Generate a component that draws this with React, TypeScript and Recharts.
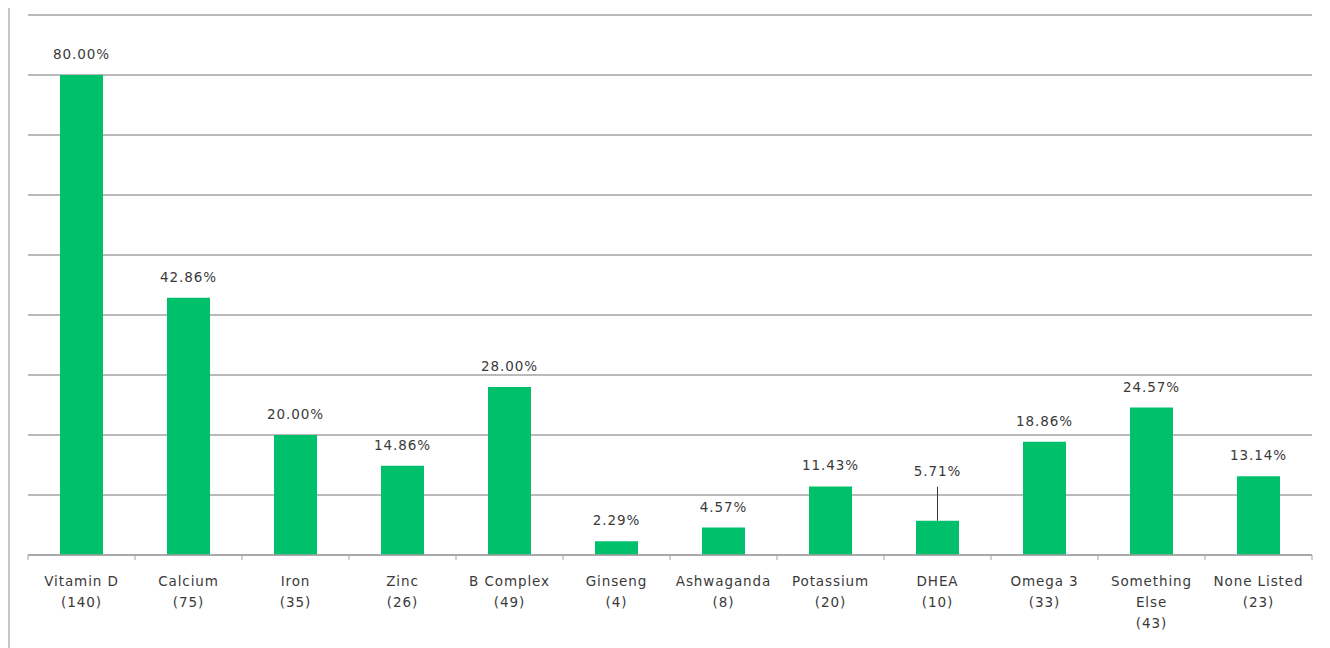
import { BarChart, Bar, XAxis, YAxis, CartesianGrid, LabelList } from "recharts";

const categories = ["Vitamin D", "Calcium", "Iron", "Zinc", "B Complex", "Ginseng", "Ashwaganda", "Potassium", "DHEA", "Omega 3", "Something Else", "None Listed"];
const counts = [140, 75, 35, 26, 49, 4, 8, 20, 10, 33, 43, 23];
const percents = [80.0, 42.86, 20.0, 14.86, 28.0, 2.29, 4.57, 11.43, 5.71, 18.86, 24.57, 13.14];
const yTicks = [0, 10, 20, 30, 40, 50, 60, 70, 80, 90];
const leaderCategory = "DHEA";

const data = categories.map((name, i) => ({ name, count: counts[i], pct: percents[i] }));

const W = 1310, H = 640;
const M = { top: 7, right: 8, left: 18, bottom: 0 };
const band = (W - M.left - M.right) / categories.length;
const FONT = "'DejaVu Sans', Verdana, sans-serif";
const TEXT = "#3a3a3a";
const AXIS = "#a3a3a3";

function splitName(name: string) {
  return name.length > 12 ? name.split(" ") : [name];
}

function CategoryTick(props: any) {
  const { x, y, payload, index } = props;
  const lines = [...splitName(payload.value), `(${counts[index]})`];
  return (
    <g>
      <line x1={x - band / 2} x2={x - band / 2} y1={y - 8} y2={y - 3} stroke={AXIS} />
      {index === categories.length - 1 && <line x1={x + band / 2} x2={x + band / 2} y1={y - 8} y2={y - 3} stroke={AXIS} />}
      <text x={x} y={y} textAnchor="middle" fill={TEXT} fontSize={13.5} fontFamily={FONT} letterSpacing={0.9}>
        {lines.map((l, i) => (
          <tspan key={i} x={x} dy={i === 0 ? 23 : 21}>{l}</tspan>
        ))}
      </text>
    </g>
  );
}

function ValueLabel(props: any) {
  const { x, y, width, value, index } = props;
  const cx = x + width / 2;
  const text = `${Number(value).toFixed(2)}%`;
  if (categories[index] === leaderCategory) {
    return (
      <g>
        <line x1={cx} x2={cx} y1={y - 34} y2={y} stroke="#333" />
        <text x={cx} y={y - 45} textAnchor="middle" fill={TEXT} fontSize={13.5} fontFamily={FONT} letterSpacing={0.9}>{text}</text>
      </g>
    );
  }
  return (
    <text x={cx} y={y - 16} textAnchor="middle" fill={TEXT} fontSize={13.5} fontFamily={FONT} letterSpacing={0.9}>{text}</text>
  );
}

export default function App() {
  return (
    <div style={{ borderLeft: "2px solid #c8c8c8", width: W, height: H }}>
      <BarChart width={W} height={H} data={data} margin={M} barSize={43}>
        <CartesianGrid vertical={false} stroke={AXIS} strokeWidth={1.5} />
        <YAxis hide domain={[0, 90]} ticks={yTicks} />
        <XAxis dataKey="name" interval={0} height={93} axisLine={{ stroke: AXIS, strokeWidth: 1.5 }} tickLine={false} tick={<CategoryTick />} />
        <Bar dataKey="pct" fill="#00c06c" isAnimationActive={false}>
          <LabelList dataKey="pct" content={<ValueLabel />} />
        </Bar>
      </BarChart>
    </div>
  );
}
